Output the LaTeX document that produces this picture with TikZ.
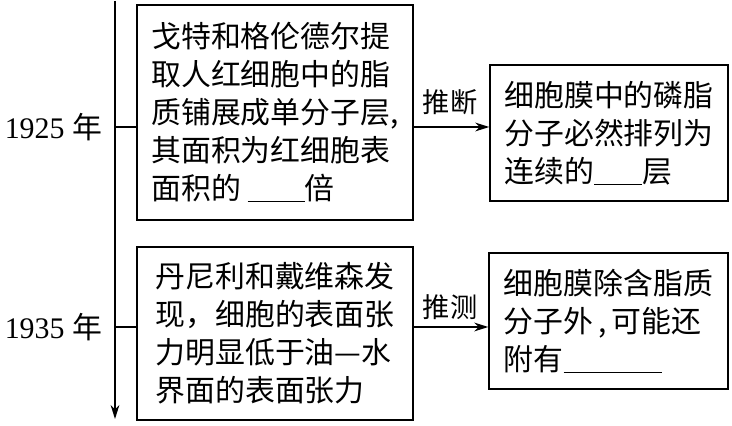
\documentclass[tikz,border=0pt]{standalone}
\usepackage{fontspec}
\setmainfont{Liberation Serif}
\newfontfamily\cjk{Noto Sans CJK SC}
\usetikzlibrary{arrows.meta}
\newcommand{\blank}[1]{\rule[-1.5pt]{#1}{0.6pt}}

\begin{document}
\begin{tikzpicture}[
  x=1cm, y=1cm,
  every node/.style={inner sep=1pt},
  fact/.style={draw, line width=0.8pt, align=left, inner sep=0pt,
    font=\cjk\fontsize{17}{21.6}\selectfont},
  year/.style={anchor=east, font=\fontsize{17}{20}\selectfont},
  tag/.style={font=\cjk\fontsize{15.5}{17}\selectfont},
  edge/.style={draw, line width=0.8pt},
  arrow/.style={draw, line width=0.8pt, -{Stealth[length=8pt, width=5pt]}}]

  \useasboundingbox (0,0) rectangle (14.64,8.52);

  % time axis
  \coordinate (top) at (2.30,8.50);
  \coordinate (bot) at (2.30,0.14);
  \coordinate (t1)  at (2.30,5.98);
  \coordinate (t2)  at (2.30,1.98);

  % findings
  \node[fact, minimum width=5.52cm, minimum height=4.30cm] (f1) at (5.50,6.27)
    {戈特和格伦德尔提\\取人红细胞中的脂\\质铺展成单分子层,\\其面积为红细胞表\\面积的 \blank{1.14cm}倍};
  \node[fact, minimum width=5.52cm, minimum height=3.46cm] (f2) at (5.50,1.85)
    {丹尼利和戴维森发\\现，细胞的表面张\\力明显低于油—水\\界面的表面张力};

  % conclusions
  \node[fact, minimum width=4.76cm, minimum height=2.72cm] (c1) at (12.18,5.86)
    {细胞膜中的磷脂\\分子必然排列为\\连续的\blank{0.96cm}层};
  \node[fact, minimum width=4.78cm, minimum height=2.72cm] (c2) at (12.17,2.10)
    {细胞膜除含脂质\\分子外\,,\,可能还\\附有\blank{1.96cm}};

  % years
  \node[year] (y1) at (2.08,5.98) {1925 {\cjk 年}};
  \node[year] (y2) at (2.08,1.98) {1935 {\cjk 年}};

  % lines
  \draw[arrow] (top) -- (bot);
  \draw[edge]  (t1) -- (t1 -| f1.west);
  \draw[edge]  (t2) -- (t2 -| f2.west);
  \draw[arrow] (t1 -| f1.east) -- (t1 -| c1.west);
  \draw[arrow] (t2 -| f2.east) -- (t2 -| c2.west);

  % labels over the arrows
  \node[tag] (l1) at (9.00,6.48) {推断};
  \node[tag] (l2) at (9.00,2.38) {推测};
\end{tikzpicture}
\end{document}
